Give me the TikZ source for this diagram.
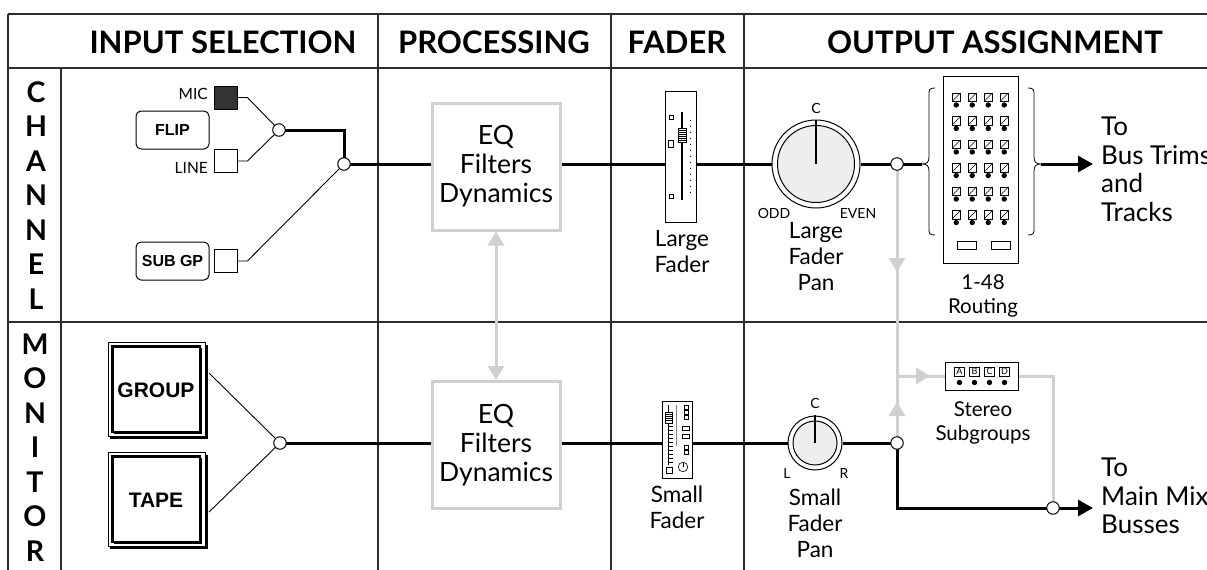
\documentclass[tikz,border=0pt]{standalone}
\usepackage{fontspec}
\setmainfont{Lato}
\newfontfamily\arialf{Liberation Sans}
\usetikzlibrary{arrows.meta}
\definecolor{lg}{RGB}{208,208,208}
\definecolor{gridc}{RGB}{45,45,45}
\definecolor{knobfill}{RGB}{238,238,238}
\begin{document}
\begin{tikzpicture}[x=1pt,y=-1pt,
  gridline/.style={draw=gridc, line width=1.6pt},
  sig/.style={draw=black, line width=3pt},
  thinl/.style={draw=black, line width=0.9pt},
  gsig/.style={draw=lg, line width=3pt},
  gtip/.style={-{Triangle[length=14pt,width=16pt]}},
  junction/.style={circle, draw=black, fill=white, inner sep=0pt, minimum size=12.5pt, line width=1pt},
  hdr/.style={font=\fontsize{31}{34}\selectfont\bfseries, anchor=base, inner sep=0pt},
  vlet/.style={font=\fontsize{28.5}{34.5}\selectfont\bfseries, align=center, inner sep=0pt},
  sqbtn/.style={draw=black, line width=0.8pt, minimum size=23pt, inner sep=0pt},
  rbtn/.style={draw=black, line width=1pt, rounded corners=5pt, minimum width=73pt, minimum height=38pt, inner sep=0pt, font=\arialf\bfseries\fontsize{16}{17}\selectfont},
  bigbtn/.style={inner sep=0pt, font=\arialf\bfseries\fontsize{21}{23}\selectfont},
  eqbox/.style={draw=lg, line width=3pt, minimum width=128pt, minimum height=127pt, inner sep=0pt, align=center, font=\fontsize{26.5}{29}\selectfont},
  lbl/.style={align=center, inner sep=0pt, anchor=north, font=\fontsize{22.5}{26}\selectfont},
  slbl/.style={align=center, inner sep=0pt, anchor=north, font=\fontsize{20.5}{24}\selectfont},
  tiny/.style={inner sep=0pt, font=\fontsize{14}{15}\selectfont},
  dest/.style={align=left, inner sep=0pt, anchor=north west, font=\fontsize{26}{28.5}\selectfont}
]
\useasboundingbox (0,0) rectangle (1207,570);
\clip (0,0) rectangle (1207,570);

% ---------- grid ----------
\draw[gridline] (8,14) -- (1240,14);
\draw[gridline] (8,68) -- (1240,68);
\draw[gridline] (8,322) -- (1240,322);
\draw[gridline] (8,14) -- (8,590);
\draw[gridline] (61,68) -- (61,590);
\foreach \x in {378,611,744} \draw[gridline] (\x,14) -- (\x,590);

% ---------- headers ----------
\node[hdr] (h1) at (223,53) {INPUT SELECTION};
\node[hdr] (h2) at (494,53) {PROCESSING};
\node[hdr] (h3) at (677,53) {FADER};
\node[hdr] (h4) at (995,53) {OUTPUT ASSIGNMENT};

\node[vlet] (vch) at (36,195.5) {C\\H\\A\\N\\N\\E\\L};
\node[vlet] (vmo) at (35,447.5) {M\\O\\N\\I\\T\\O\\R};

% ---------- named coordinates ----------
\coordinate (j1) at (279,130);
\coordinate (j2) at (344,164);
\coordinate (j4) at (897,164);
\coordinate (j5) at (280,443);
\coordinate (j6) at (897,443);
\coordinate (j7) at (1053,508);
\coordinate (gA) at (897,272);
\coordinate (gB) at (897,376);
\coordinate (gC) at (897,402);
\coordinate (gD) at (930,376);
\coordinate (btip) at (922,164);
\coordinate (rbtip) at (1041,164);
\coordinate (out1) at (1093,164);
\coordinate (out2) at (1093,508);

% ---------- input selection ----------
\node[sqbtn, fill=black!80] (mic) at (225.5,97.5) {};
\node[sqbtn] (line) at (225.5,161) {};
\node[sqbtn] (sub) at (225.5,261) {};
\node[inner sep=0pt, anchor=base east, font=\fontsize{15.5}{16}\selectfont] (micl) at (208,99) {MIC};
\node[inner sep=0pt, anchor=base east, font=\fontsize{15.5}{16}\selectfont] (linel) at (208,173) {LINE};
\node[rbtn] (flip) at (172.5,130) {FLIP};
\node[rbtn] (subgp) at (172.5,261) {SUB GP};
\draw[thinl] (mic.east) -- ++(10,0) -- (j1);
\draw[thinl] (line.east) -- ++(10,0) -- (j1);
\draw[thinl] (sub.east) -- ++(10,0) -- (j2);
\draw[sig] (j1) -| (j2);

% GROUP / TAPE buttons
\foreach \yy in {342, 452}{
  \fill[black] (110,\yy+3) rectangle (208,\yy+97);
  \draw[black, line width=1pt, fill=white] (108,\yy) rectangle (205,\yy+94);
  \draw[black, line width=2.2pt] (112.5,\yy+4.5) rectangle (200,\yy+90);
  \draw[black, line width=1.2pt] (201.5,\yy+6) -- (201.5,\yy+91.5) -- (114,\yy+91.5);
}
\node[bigbtn] (grp) at (156,390) {GROUP};
\node[bigbtn] (tape) at (156,500) {TAPE};
\coordinate (grpo) at (209,373);
\coordinate (tapeo) at (209,512);
\draw[thinl] (grpo) -- (j5);
\draw[thinl] (tapeo) -- (j5);

% ---------- processing ----------
\node[eqbox] (eq1) at (496,166.5) {EQ\\Filters\\Dynamics};
\node[eqbox] (eq2) at (496,445) {EQ\\Filters\\Dynamics};
\draw[gsig, {Triangle[length=14pt,width=16pt]}-{Triangle[length=14pt,width=16pt]}] (eq1.south) -- (eq2.north);

% ---------- faders ----------
\node[draw=black, line width=0.9pt, minimum width=31pt, minimum height=131pt, inner sep=0pt] (lf) at (680.5,156.5) {};
\begin{scope}[line width=0.6pt]
  \draw (669.5,115.5) rectangle (673,119);
  \draw (668.5,140.5) rectangle (673.5,147.5);
  \draw (669.5,194.5) rectangle (673,198);
  \draw[line width=1.8pt] (682,112) -- (682,200);
  \draw[fill=white] (678.5,128) rectangle (686,142);
  \foreach \yy in {130,132,134,136,138,140} \draw[line width=0.5pt] (679,\yy) -- (685.5,\yy);
  \foreach \yy in {120,126,132,138,144,150,156,162,168,174,180,186,192} \draw[line width=0.6pt] (689.5,\yy) -- (691,\yy);
\end{scope}
\node[lbl] (lfl) at (682,230) {Large\\Fader};

\node[draw=black, line width=0.9pt, minimum width=30pt, minimum height=77pt, inner sep=0pt] (sf) at (677,439.5) {};
\begin{scope}[line width=0.6pt]
  \draw[line width=1.5pt] (668.5,405) -- (668.5,465);
  \draw[fill=white] (665.5,412) rectangle (672,423);
  \foreach \yy in {414,416,418,420} \draw[line width=0.4pt] (666,\yy) -- (671.5,\yy);
  \foreach \yy in {426,430,434,438,442,446,450,454,458,462} \draw[line width=0.5pt] (669,\yy) -- (672.5,\yy);
  \draw[draw=black!50, line width=0.8pt] (676,405) -- (676,446);
  \foreach \yy in {405,410,415,445,450} \draw (684,\yy) rectangle (688.5,\yy+4);
  \draw (682.5,426) rectangle (689.5,430);
  \draw (682.5,434) rectangle (689.5,438);
  \draw (666,467.5) rectangle (672,473.5);
  \draw (683,467) circle (4.8);
  \draw (683,467) -- (683,462.5);
\end{scope}
\node[lbl] (sfl) at (677,486) {Small\\Fader};

% ---------- knobs ----------
\node[circle, draw=black, line width=1pt, minimum size=88pt, inner sep=0pt] (k1) at (816,164) {};
\draw[line width=1pt, fill=knobfill] (816,164) circle (38.5);
\draw[line width=2.2pt] (816,164) -- (816,120);
\node[tiny] (k1c) at (816,108) {C};
\node[tiny] (k1o) at (774,213) {ODD};
\node[tiny] (k1e) at (858,213) {EVEN};
\node[lbl] (k1l) at (816,222) {Large\\Fader\\Pan};

\node[circle, draw=black, line width=1pt, minimum size=54pt, inner sep=0pt] (k2) at (815,443) {};
\draw[line width=1pt, fill=knobfill] (815,443) circle (22);
\draw[line width=2pt] (815,443) -- (815,415);
\node[tiny] (k2c) at (815,403) {C};
\node[tiny] (k2l) at (787,473) {L};
\node[tiny] (k2r) at (844,473) {R};
\node[lbl] (k2lab) at (815,489) {Small\\Fader\\Pan};

% ---------- routing ----------
\node[draw=black, line width=1pt, minimum width=75pt, minimum height=187pt, inner sep=0pt] (rt) at (980.5,169.5) {};
\foreach \c in {0,1,2,3}{
  \foreach \r in {0,...,5}{
    \pgfmathsetmacro{\xx}{952+16*\c}
    \pgfmathsetmacro{\yy}{93+23.5*\r}
    \draw[line width=0.6pt] (\xx,\yy) rectangle (\xx+8.5,\yy+8.5);
    \draw[line width=0.5pt] (\xx,\yy+8.5) -- (\xx+8.5,\yy);
    \fill (\xx+4.25,\yy+12) circle (2.7);
  }
}
\draw[line width=0.6pt] (957,241) rectangle (976,249);
\draw[line width=0.6pt] (991,241) rectangle (1010,249);
\draw[line width=0.8pt] (935,88) .. controls (929,88) and (929,90) .. (929,95) -- (929,157) .. controls (929,162) and (927,164) .. (btip) .. controls (927,164) and (929,166) .. (929,171) -- (929,228) .. controls (929,233) and (929,235) .. (935,235);
\draw[line width=0.8pt] (1028,88) .. controls (1034,88) and (1034,90) .. (1034,95) -- (1034,157) .. controls (1034,162) and (1036,164) .. (rbtip) .. controls (1036,164) and (1034,166) .. (1034,171) -- (1034,228) .. controls (1034,233) and (1034,235) .. (1028,235);
\node[slbl] (rtl) at (983,274) {1-48\\Routing};

% ---------- stereo subgroups ----------
\node[draw=black, line width=1pt, minimum width=73pt, minimum height=28pt, inner sep=0pt] (ss) at (981.5,376) {};
\foreach \l/\xx in {A/959.5,B/974.5,C/989.5,D/1004.5}{
  \node[draw=black, line width=0.6pt, minimum width=10pt, minimum height=9pt, inner sep=0pt, font=\fontsize{9}{9}\selectfont] at (\xx,371.5) {\l};
  \fill (\xx,382.5) circle (2.7);
}
\node[slbl] (ssl) at (983,401) {Stereo\\Subgroups};

% ---------- gray routing lines ----------
\draw[gsig] (j4) -- (gB);
\draw[gsig, gtip] (j4) -- (gA);
\draw[gsig] (j6) -- (gB) -- (ss.west);
\draw[gsig, gtip] (j6) -- (gC);
\draw[gsig, gtip] (gB) -- (gD);
\draw[gsig] (ss.east) -| (j7);

% ---------- black signal lines ----------
\draw[sig] (j2) -- (eq1.west |- j2);
\draw[sig] (eq1.east |- j2) -- (lf.west |- j2);
\draw[sig] (lf.east |- j2) -- (k1.west);
\draw[sig] (k1.east) -- (j4) -- (btip);
\draw[sig, -{Triangle[length=15pt,width=16pt]}] (rbtip) -- (out1);

\draw[sig] (j5) -- (eq2.west |- j5);
\draw[sig] (eq2.east |- j5) -- (sf.west |- j5);
\draw[sig] (sf.east |- j5) -- (k2.west);
\draw[sig] (k2.east) -- (j6) -- (j6 |- j7) -- (j7);
\draw[sig, -{Triangle[length=15pt,width=16pt]}] (j7) -- (out2);

% ---------- junctions ----------
\foreach \j in {j1,j2,j4,j5,j6,j7} \node[junction] at (\j) {};

% ---------- destinations ----------
\node[dest] (d1) at (1101,117) {To\\Bus Trims\\and\\Tracks};
\node[dest] (d2) at (1101,458) {To\\Main Mix\\Busses};
\end{tikzpicture}
\end{document}
